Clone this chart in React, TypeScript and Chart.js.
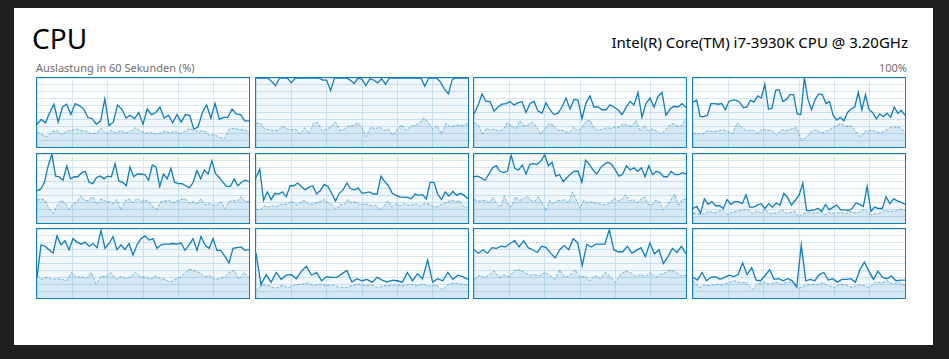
import React, { useEffect, useRef } from "react";
import { Chart, registerables } from "chart.js";

Chart.register(...registerables);

// ---- Data (percent utilisation per logical processor, last 60 s) ----
const c1Total = [33,40,35,50,62,36,58,62,47,63,60,55,43,41,33,38,70,31,36,61,55,42,46,41,50,33,55,47,50,58,42,46,35,47,36,47,46,26,29,50,61,42,63,40,43,43,55,48,47,38,38];
const c1Kernel = [22,18,15,22,24,18,23,24,26,24,23,19,20,27,19,24,20,24,20,23,28,23,20,21,19,20,23,20,23,19,23,27,23,23,23,17,18,14,12,26,27,25,25,22];
const c2Total = [100,100,100,100,95,89,100,100,100,93,100,100,100,100,100,100,100,97,97,82,100,100,100,100,97,92,100,98,89,99,97,93,99,91,100,100,100,100,100,100,100,100,100,88,100,100,100,94,84,77,98,100,100,100,100];
const c2Kernel = [34,35,26,25,24,24,30,26,25,26,19,28,19,34,35,23,26,29,36,24,26,31,31,35,28,15,29,26,29,24,26,17,26,32,24,30,31,35,42,36,26,31,19,34,29,31,32,31,35];
const c3Total = [48,60,77,66,66,52,58,62,63,66,61,64,66,50,63,66,52,49,64,54,47,49,58,71,55,69,68,41,64,74,58,58,54,54,61,58,54,47,57,66,61,79,43,63,71,58,73,79,46,55,59,58,63,57];
const c3Kernel = [35,32,19,27,24,26,23,25,35,31,26,38,31,32,36,30,19,26,34,32,24,25,22,21,29,23,29,38,38,26,24,26,28,27,29,29,34,31,30,38,24,31,23,26,23,19,25,31,34,30,31,41];
const c4Total = [65,68,44,44,46,63,63,62,63,54,66,68,68,65,57,58,68,65,74,71,91,55,56,82,83,66,69,76,76,48,47,100,69,54,69,77,76,63,66,46,39,43,38,50,55,58,79,54,76,54,50,41,48,44,49,43,58,49,53,46];
const c4Kernel = [19,19,19,24,22,23,25,23,19,35,28,23,25,20,26,24,24,17,25,24,26,28,10,14,22,25,20,23,26,31,34,30,31,23,14,23,24,23,20,24,28,29,28,22];
const c5Total = [47,49,59,83,100,68,67,62,83,64,67,67,73,75,59,57,66,68,64,68,67,86,61,59,54,81,67,71,71,70,62,84,81,53,71,64,79,59,57,57,54,51,59,76,64,77,71,90,72,66,59,53,53,64,54,59,62,60];
const c5Kernel = [33,35,33,21,14,25,33,29,20,27,31,39,32,33,38,27,35,32,31,28,34,19,32,35,29,36,31,33,31,23,20,31,32,33,29,32,34,35,29,31,28,35,26,28,26,26,31,20,31,33,31,38,31,31];
const c6Total = [66,78,33,45,34,43,42,45,38,54,54,58,53,48,52,54,42,47,56,53,43,32,43,48,58,50,48,51,43,44,45,42,42,68,60,54,43,40,38,37,37,35,42,40,41,35,59,59,42,34,45,39,46,40,43,40,35];
const c6Kernel = [20,19,25,23,25,23,27,27,28,32,26,29,33,28,27,29,31,34,29,26,20,27,26,34,29,31,26,28,27,25,26,19,25,32,23,28,25,28,26,26,28,24,28,28,25,23,26,28,31,33,31,32,23,23];
const c7Total = [67,68,65,62,71,80,83,75,73,75,98,79,77,84,71,85,86,85,90,99,83,88,68,70,60,66,71,75,75,59,91,85,77,71,80,85,88,85,77,68,71,83,77,80,75,80,67,83,70,75,73,67,67,75,70,70,73,71];
const c7Kernel = [34,32,32,33,29,37,28,23,39,26,24,38,33,34,39,33,31,38,29,18,33,27,33,32,34,29,45,34,21,33,29,31,29,28,26,27,29,36,32,34,41,32,34,29,34,38,27,26,33,31,19,26,33,42,26,34,34];
const c8Total = [21,24,14,35,27,31,25,25,21,34,27,31,31,28,41,23,23,26,28,21,28,23,29,26,43,37,26,33,40,58,18,18,19,21,17,27,19,23,26,19,19,18,21,29,27,24,53,17,23,21,21,38,28,35,32,30,27];
const c8Kernel = [14,14,12,15,17,14,17,19,13,15,17,18,19,19,14,17,15,20,13,14,15,19,14,15,17,9,14,15,15,14,17,12,15,14,15,15,13,17,15,15,19,17,12,13,14,18,17,17,18,20,18];
const c9Total = [30,77,75,70,65,90,77,83,70,86,81,78,81,75,79,73,98,72,79,89,70,77,70,79,62,77,86,90,84,86,72,77,78,78,79,78,80,69,77,86,69,89,77,72,86,69,69,60,51,72,73,74,69,70];
const c9Kernel = [32,27,30,27,28,27,25,37,30,31,28,37,20,32,31,37,27,31,28,31,37,31,30,27,32,28,27,23,27,30,36,42,39,37,31,33,27,28,30,37,40,27,37,30];
const c10Total = [65,19,34,23,37,27,33,34,28,39,46,33,37,25,31,30,30,35,40,23,28,25,27,23,30,26,23,26,25,23,37,25,35,28,55,23,28,25,37,27,33,31,27];
const c10Kernel = [11,19,18,14,18,15,19,20,22,18,20,18,19,15,15,18,20,18,19,15,18,18,19,18,20,18,20,17,19,12,20,22,20,19];
const c11Total = [70,65,70,65,73,72,75,74,79,83,74,83,73,70,66,75,73,65,58,70,76,70,86,80,47,78,74,78,78,78,99,70,67,67,75,65,69,73,60,80,64,70,50,60,72,66,75,64];
const c11Kernel = [27,33,30,33,39,30,33,31,40,41,37,33,34,32,37,33,27,41,30,33,41,30,32,25,33,28,37,31,22,34,39,37,31,34,31,37,30,34,37,41,37,32,33];
const c12Total = [30,26,37,25,30,31,27,30,33,31,34,51,34,44,26,25,33,41,27,28,25,28,25,16,77,25,27,25,34,37,26,28,23,27,27,28,23,41,52,39,27,39,30,28,32,25,26,26];
const c12Kernel = [25,15,19,18,20,19,22,25,22,23,12,20,23,20,23,20,23,23,14,18,20,19,22,18,15,20,19,15,19,18,15,23,22,25,20,23,18];

const totals = [c1Total, c2Total, c3Total, c4Total, c5Total, c6Total, c7Total, c8Total, c9Total, c10Total, c11Total, c12Total];
const kernels = [c1Kernel, c2Kernel, c3Kernel, c4Kernel, c5Kernel, c6Kernel, c7Kernel, c8Kernel, c9Kernel, c10Kernel, c11Kernel, c12Kernel];

const TITLE = "CPU";
const CPU_NAME = "Intel(R) Core(TM) i7-3930K CPU @ 3.20GHz";
const AXIS_LABEL = "Auslastung in 60 Sekunden (%)";
const MAX_LABEL = "100%";
const SECONDS = 60;

const BLUE = "#117DBB";
const FONT = '"Noto Sans", "Open Sans", sans-serif';

function toPoints(values: number[]) {
  const n = values.length;
  return values.map((v, i) => ({ x: (i * SECONDS) / (n - 1), y: v }));
}

function CoreGraph({ total, kernel }: { total: number[]; kernel: number[] }) {
  const ref = useRef<HTMLCanvasElement | null>(null);
  useEffect(() => {
    if (!ref.current) return;
    const chart = new Chart(ref.current, {
      type: "line",
      data: {
        datasets: [
          {
            data: toPoints(total),
            borderColor: BLUE,
            borderWidth: 1.3,
            backgroundColor: "rgba(17,125,187,0.06)",
            fill: "origin",
            pointRadius: 0,
            tension: 0,
          },
          {
            data: toPoints(kernel),
            borderColor: "rgba(17,125,187,0.5)",
            borderWidth: 1,
            borderDash: [3, 1.5],
            backgroundColor: "rgba(17,125,187,0.12)",
            fill: "origin",
            pointRadius: 0,
            tension: 0,
          },
        ],
      },
      options: {
        animation: false,
        responsive: false,
        events: [],
        layout: { padding: 0 },
        plugins: { legend: { display: false }, tooltip: { enabled: false } },
        scales: {
          x: {
            type: "linear",
            min: 0,
            max: SECONDS,
            ticks: { display: false, stepSize: 10 },
            grid: { color: "#d3e6f2", drawTicks: false, lineWidth: 1 },
            border: { display: false },
          },
          y: {
            min: 0,
            max: 100,
            ticks: { display: false, stepSize: 10 },
            grid: { color: "#d3e6f2", drawTicks: false, lineWidth: 1 },
            border: { display: false },
          },
        },
      },
    });
    return () => chart.destroy();
  }, [total, kernel]);
  return <canvas ref={ref} width={212} height={69} style={{ display: "block" }} />;
}

const COL_LEFT = [36, 254.5, 473, 692];
const ROW_TOP = [77, 152.5, 228];

export default function App() {
  return (
    <div
      style={{
        position: "fixed",
        left: 0,
        top: 0,
        width: 949,
        height: 359,
        background: "#1f1f1f",
        overflow: "hidden",
      }}
    >
      <div
        style={{
          position: "absolute",
          left: 14,
          top: 8,
          width: 919,
          height: 337,
          background: "#ffffff",
        }}
      />
      <div
        style={{
          position: "absolute",
          left: 32,
          top: 24,
          fontFamily: FONT,
          fontSize: 28,
          lineHeight: 1,
          color: "#000",
          whiteSpace: "nowrap",
        }}
      >
        {TITLE}
      </div>
      <div
        style={{
          position: "absolute",
          right: 949 - 908,
          top: 35,
          fontFamily: FONT,
          fontSize: 15,
          lineHeight: 1,
          color: "#000",
          whiteSpace: "nowrap",
        }}
      >
        {CPU_NAME}
      </div>
      <div
        style={{
          position: "absolute",
          left: 36,
          top: 62,
          fontFamily: FONT,
          fontSize: 11,
          lineHeight: 1,
          color: "#6d6d6d",
          whiteSpace: "nowrap",
        }}
      >
        {AXIS_LABEL}
      </div>
      <div
        style={{
          position: "absolute",
          right: 949 - 907,
          top: 62,
          fontFamily: FONT,
          fontSize: 11,
          lineHeight: 1,
          color: "#6d6d6d",
          whiteSpace: "nowrap",
        }}
      >
        {MAX_LABEL}
      </div>
      {totals.map((t, i) => {
        const r = Math.floor(i / 4);
        const c = i % 4;
        return (
          <div
            key={i}
            style={{
              position: "absolute",
              left: COL_LEFT[c],
              top: ROW_TOP[r],
              width: 212,
              height: 69,
              border: `1px solid ${BLUE}`,
              background: "#fff",
            }}
          >
            <CoreGraph total={t} kernel={kernels[i]} />
          </div>
        );
      })}
    </div>
  );
}
